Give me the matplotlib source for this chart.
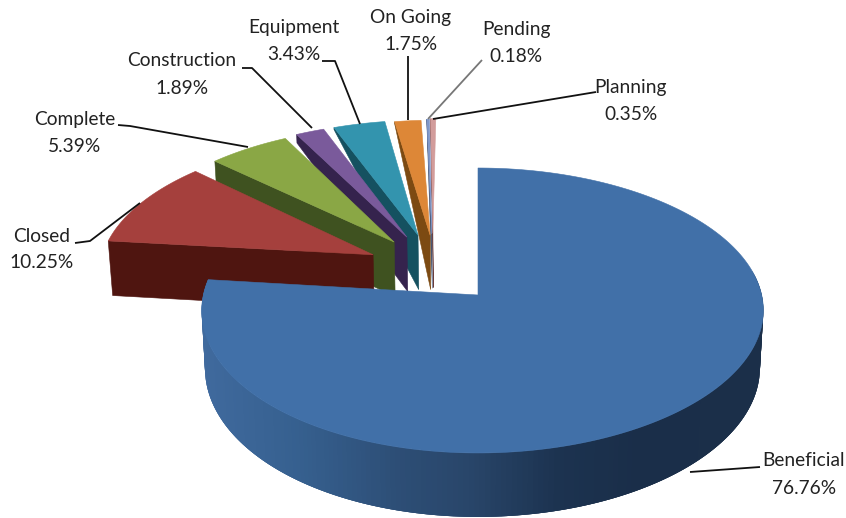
import numpy as np
import matplotlib
matplotlib.use("Agg")
import matplotlib.pyplot as plt
from matplotlib.patches import Polygon
from matplotlib.colors import to_rgb

categories = ["Beneficial", "Closed", "Complete", "Construction",
              "Equipment", "On Going", "Pending", "Planning"]
shares = [76.76, 10.25, 5.39, 1.89, 3.43, 1.75, 0.18, 0.35]

# slice displacement on the pie plane (radius = 1)
explode_u = [0.0, -0.384, -0.310, -0.264, -0.223, -0.178, -0.172, -0.168]
explode_v = [0.0, 0.295, 0.392, 0.430, 0.445, 0.445, 0.455, 0.460]
# small rotation of each displaced slice, in degrees
spin = [0.0, -0.2, -0.8, -1.0, -1.0, -1.3, -0.3, -0.3]
# share of the full thickness shown at the outer corner of each cut face
corner_depth = [1.0, 1.0, 1.0, 0.17, 0.04, 0.04, 0.02, 0.02]

top_colors = ["#4170a8", "#a5403d", "#8aa745", "#7a5a9b",
              "#3394ae", "#dd8737", "#7f97c9", "#d29c9b"]
side_colors = ["#2a4768", "#4f1510", "#3f5220", "#35234d",
               "#155160", "#7c4a12", "#404f6d", "#6b3b3a"]

# leader lines: (x, y) vertices in figure pixels
leaders = {
    "Beneficial": [(690, 472), (760, 467)],
    "Closed": [(75, 243), (90, 241), (140, 203)],
    "Complete": [(118, 125), (130, 126), (248, 147)],
    "Construction": [(242, 68), (252, 68), (312, 128)],
    "Equipment": [(322, 61), (335, 61), (360, 124)],
    "On Going": [(408, 56), (408, 120)],
    "Pending": [(428, 119), (482, 60)],
    "Planning": [(433, 119), (590, 93), (596, 92)],
}
label_pos = {
    "Beneficial": (804, 461), "Closed": (42, 236), "Complete": (75, 120),
    "Construction": (182, 61), "Equipment": (294, 28), "On Going": (411, 18),
    "Pending": (516, 29), "Planning": (631, 87),
}
label_gap = 27

# projection of the tilted pie
CX, CY = 478.0, 295.0
A, B = 282.0, 140.8
PERSP = 0.1087
DEPTH = 57.0
SHRINK = 0.012
RADIUS = 0.99


def project(u, v, h=0.0):
    w = 1 + PERSP * v
    x = CX + A * u / w
    y = CY - B * v / w
    x = CX + (x - CX) * (1 - SHRINK * h)
    return x, y + h * DEPTH / w


def rim(theta, du, dv, r=RADIUS):
    t = np.radians(theta)
    return du + r * np.sin(t), dv + r * np.cos(t)


def main_rim(theta):
    # the large slice sits slightly off centre around its apex
    u, v = rim(theta, 0, 0, 1.0)
    return 0.99 * u + 0.016 * (1 - v * v), v


def blue_shade(x):
    stops_x = [200, 300, 400, 470, 560, 640, 765]
    stops_c = ["#406a9e", "#36608f", "#2d4e76", "#29466a", "#1c3350", "#1a2e49", "#1b2f49"]
    rgb = np.array([to_rgb(c) for c in stops_c])
    return tuple(np.interp(x, stops_x, rgb[:, i]) for i in range(3))


fig = plt.figure(figsize=(8.46, 5.18), dpi=100)
ax = fig.add_axes([0, 0, 1, 1])
ax.set_xlim(0, 846)
ax.set_ylim(518, 0)
ax.axis("off")

edges = np.cumsum([0.0] + shares) * 3.6

# exploded slices go back to front, the large slice goes last
z = 2
for i in [7, 6, 5, 4, 3, 2, 1]:
    start, end = edges[i] + spin[i], edges[i + 1] + spin[i]
    du, dv = explode_u[i], explode_v[i]
    corner = rim(start, du, dv)
    side = [project(*corner), project(du, dv), project(du, dv, 1.0),
            project(*corner, corner_depth[i])]
    ax.add_patch(Polygon(side, closed=True, fc=side_colors[i], ec=side_colors[i],
                         lw=0.4, zorder=z))
    arc = np.linspace(start, end, 40)
    face = [project(du, dv)] + [project(*rim(a, du, dv)) for a in arc]
    ax.add_patch(Polygon(face, closed=True, fc=top_colors[i], ec=top_colors[i],
                         lw=0.4, zorder=z + 1))
    z += 2

# outer wall of the large slice: overlapping strips avoid seams between them
angles = np.linspace(80, edges[1], 200)
for a0, a1 in zip(angles[:-1], angles[1:]):
    a2 = min(a1 + 2.0, edges[1])
    quad = [project(*main_rim(a0)), project(*main_rim(a2)),
            project(*main_rim(a2), 1.0), project(*main_rim(a0), 1.0)]
    shade = blue_shade(project(*main_rim(a0))[0])
    ax.add_patch(Polygon(quad, closed=True, fc=shade, ec="none", lw=0, zorder=z))
z += 1

arc = np.linspace(edges[0], edges[1], 240)
face = [project(0, 0)] + [project(*main_rim(a)) for a in arc]
ax.add_patch(Polygon(face, closed=True, fc=top_colors[0], ec=top_colors[0],
                     lw=0.4, zorder=z))
z += 1

# leader lines and labels
for name, share in zip(categories, shares):
    xs, ys = zip(*leaders[name])
    line_color = "#777777" if name == "Pending" else "#111111"
    ax.plot(xs, ys, color=line_color, lw=1.3, solid_capstyle="butt", zorder=z)
    lx, ly = label_pos[name]
    ax.text(lx, ly, name, ha="center", va="center", family="Lato",
            fontsize=13.8, color="#222222", zorder=z + 1)
    ax.text(lx, ly + label_gap, f"{share:.2f}%", ha="center", va="center",
            family="Lato", fontsize=13.8, color="#222222", zorder=z + 1)

fig.savefig("out.png", dpi=100, facecolor="white")
